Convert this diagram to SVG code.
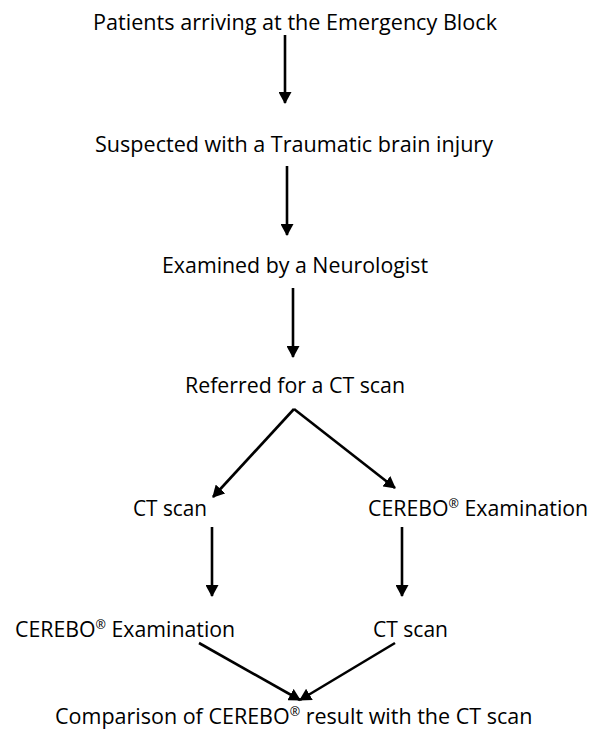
<svg xmlns="http://www.w3.org/2000/svg" width="593" height="731" viewBox="0 0 593 731">
<style>
  .t { font-family: "Open Sans", "Liberation Sans", sans-serif; font-size: 22px; fill: #000; }
  .s { font-size: 21.3px; }
  .sup { font-size: 12.5px; }
  .c { stroke: #000; stroke-width: 2.6; fill: none; marker-end: url(#ah); }
</style>
<defs>
  <marker id="ah" markerUnits="userSpaceOnUse" markerWidth="13" markerHeight="13" refX="11" refY="6.5" orient="auto">
    <path d="M0,0 L12,6.5 L0,13 z" fill="#000"/>
  </marker>
</defs>
<rect width="593" height="731" fill="#fff"/>
<g id="connectors">
  <line class="c" x1="285" y1="35" x2="285" y2="103"/>
  <line class="c" x1="287" y1="166" x2="287" y2="235"/>
  <line class="c" x1="293" y1="288" x2="293" y2="357"/>
  <line class="c" x1="294" y1="409" x2="213" y2="497"/>
  <line class="c" x1="294" y1="409" x2="395" y2="488"/>
  <line class="c" x1="212" y1="527" x2="212" y2="596"/>
  <line class="c" x1="402" y1="527" x2="402" y2="596"/>
  <line class="c" x1="199" y1="643" x2="300" y2="700"/>
  <line class="c" x1="395" y1="643" x2="300" y2="700"/>
</g>
<g id="n1"><text class="t" x="93" y="30" textLength="404" lengthAdjust="spacingAndGlyphs">Patients arriving at the Emergency Block</text></g>
<g id="n2"><text class="t" x="95" y="152" textLength="398" lengthAdjust="spacingAndGlyphs">Suspected with a Traumatic brain injury</text></g>
<g id="n3"><text class="t" x="162" y="273" textLength="266" lengthAdjust="spacingAndGlyphs">Examined by a Neurologist</text></g>
<g id="n4"><text class="t" x="185" y="393" textLength="220" lengthAdjust="spacingAndGlyphs">Referred for a CT scan</text></g>
<g id="n5"><text class="t" x="133" y="516" textLength="74" lengthAdjust="spacingAndGlyphs">CT scan</text></g>
<g id="n6"><text class="t s" x="368" y="516">CEREBO<tspan class="sup" dy="-8">®</tspan><tspan dy="8"> Examination</tspan></text></g>
<g id="n7"><text class="t s" x="15" y="637">CEREBO<tspan class="sup" dy="-8">®</tspan><tspan dy="8"> Examination</tspan></text></g>
<g id="n8"><text class="t" x="373" y="637" textLength="75" lengthAdjust="spacingAndGlyphs">CT scan</text></g>
<g id="n9"><text class="t" x="55" y="724" style="font-size:21.5px">Comparison of CEREBO<tspan class="sup" dy="-8">®</tspan><tspan dy="8"> result with the CT scan</tspan></text></g>
</svg>
